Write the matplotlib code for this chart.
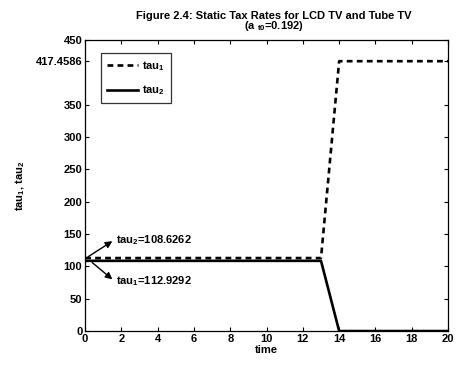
import matplotlib
matplotlib.use("Agg")
import matplotlib.pyplot as plt

# data
time = list(range(0, 21))
tau1 = [112.9292] * 14 + [417.4586] * 7
tau2 = [108.6262] * 14 + [0.0] * 7
y_ticks = [0, 50, 100, 150, 200, 250, 300, 350, 417.4586, 450]
y_tick_labels = ["0", "50", "100", "150", "200", "250", "300", "350", "417.4586", "450"]
x_ticks = list(range(0, 21, 2))

plt.rcParams["font.family"] = ["Liberation Sans", "DejaVu Sans"]
plt.rcParams["font.weight"] = "bold"
plt.rcParams["axes.titleweight"] = "bold"
plt.rcParams["axes.labelweight"] = "bold"
plt.rcParams["mathtext.fontset"] = "custom"
plt.rcParams["mathtext.rm"] = "Liberation Sans:bold"
plt.rcParams["mathtext.it"] = "Liberation Sans:bold"

FS = 8

fig = plt.figure(figsize=(4.6, 3.65), dpi=100)
ax = fig.add_axes([0.185, 0.093, 0.789, 0.797])

ax.plot(time, tau1, "k--", lw=1.9, dashes=(2.2, 1.6), label="tau$_1$")
ax.plot(time, tau2, "k-", lw=1.9, label="tau$_2$")

ax.set_xlim(0, 20)
ax.set_ylim(0, 450)
ax.set_xticks(x_ticks)
ax.set_yticks(y_ticks)
ax.set_yticklabels(y_tick_labels)
ax.tick_params(direction="in", top=True, right=True, labelsize=FS, length=3, pad=2)
for s in ax.spines.values():
    s.set_linewidth(0.9)

ax.set_xlabel("time", fontsize=FS, labelpad=1)
ax.set_ylabel("tau$_1$, tau$_2$", fontsize=FS, labelpad=6)
ax.set_title("Figure 2.4: Static Tax Rates for LCD TV and Tube TV\n(a $_{t0}$=0.192)",
             fontsize=FS, linespacing=0.85, pad=8, x=0.52)

arrow = dict(arrowstyle="-|>", color="k", lw=1, mutation_scale=10, shrinkA=0, shrinkB=0)
ax.annotate("", xy=(1.5, 139), xytext=(0.17, 115), arrowprops=arrow)
ax.text(1.7, 141, "tau$_2$=108.6262", fontsize=FS, va="center")
ax.annotate("", xy=(1.5, 80), xytext=(0.39, 106), arrowprops=arrow)
ax.text(1.7, 77, "tau$_1$=112.9292", fontsize=FS, va="center")

leg = ax.legend(loc="upper left", fontsize=FS, frameon=True, fancybox=False,
                edgecolor="k", handlelength=2.8, borderpad=0.55, labelspacing=0.95,
                handletextpad=0.4, bbox_to_anchor=(0.028, 0.975))
leg.get_frame().set_linewidth(0.9)

fig.savefig("out.png", dpi=100)
